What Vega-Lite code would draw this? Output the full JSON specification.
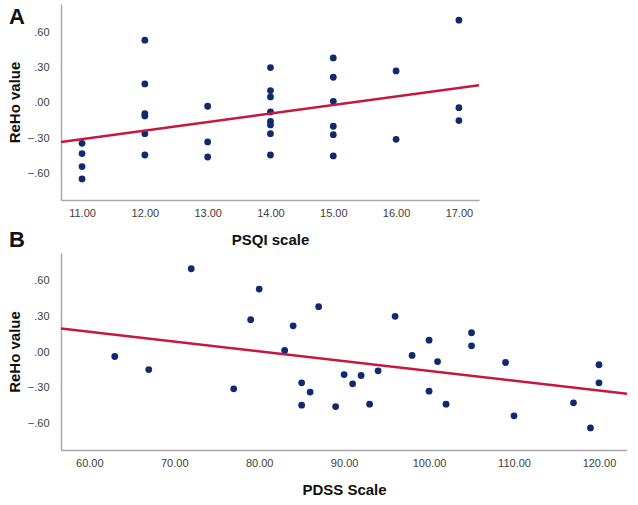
{
  "$schema": "https://vega.github.io/schema/vega-lite/v6.json",
  "padding": {"left": 7, "top": 4, "right": 0, "bottom": 0},
  "background": "white",
  "bounds": "flush",
  "spacing": 53,
  "config": {
    "view": {"stroke": null},
    "font": "Liberation Sans",
    "axis": {
      "grid": false,
      "ticks": false,
      "domainColor": "#a8a8a8",
      "domainWidth": 1.5,
      "labelFont": "Liberation Sans",
      "labelFontSize": 11,
      "labelColor": "#404040",
      "titleFont": "Liberation Sans",
      "titleFontSize": 15,
      "titleFontWeight": "bold",
      "titleColor": "#111111"
    },
    "axisY": {"labelPadding": 12, "titlePadding": 8, "minExtent": 31, "maxExtent": 31},
    "axisX": {"labelPadding": 7, "titlePadding": 14},
    "title": {"fontSize": 22, "fontWeight": "bold", "font": "Liberation Sans", "color": "#111111", "anchor": "start", "frame": "group"}
  },
  "datasets": {
    "psqi": [
      {"psqi": 11, "reho": -0.343}, {"psqi": 11, "reho": -0.43}, {"psqi": 11, "reho": -0.54}, {"psqi": 11, "reho": -0.645},
      {"psqi": 12, "reho": 0.533}, {"psqi": 12, "reho": 0.161}, {"psqi": 12, "reho": -0.091}, {"psqi": 12, "reho": -0.11}, {"psqi": 12, "reho": -0.261}, {"psqi": 12, "reho": -0.442},
      {"psqi": 13, "reho": -0.028}, {"psqi": 13, "reho": -0.331}, {"psqi": 13, "reho": -0.459},
      {"psqi": 14, "reho": 0.30}, {"psqi": 14, "reho": 0.105}, {"psqi": 14, "reho": 0.051}, {"psqi": 14, "reho": -0.076}, {"psqi": 14, "reho": -0.156}, {"psqi": 14, "reho": -0.187}, {"psqi": 14, "reho": -0.261}, {"psqi": 14, "reho": -0.442},
      {"psqi": 15, "reho": 0.382}, {"psqi": 15, "reho": 0.218}, {"psqi": 15, "reho": 0.014}, {"psqi": 15, "reho": -0.198}, {"psqi": 15, "reho": -0.269}, {"psqi": 15, "reho": -0.45},
      {"psqi": 16, "reho": 0.272}, {"psqi": 16, "reho": -0.309},
      {"psqi": 17, "reho": 0.703}, {"psqi": 17, "reho": -0.04}, {"psqi": 17, "reho": -0.15}
    ],
    "pdss": [
      {"pdss": 72, "reho": 0.698}, {"pdss": 80, "reho": 0.528}, {"pdss": 79, "reho": 0.271}, {"pdss": 87, "reho": 0.38},
      {"pdss": 84, "reho": 0.22}, {"pdss": 83, "reho": 0.014}, {"pdss": 63, "reho": -0.037}, {"pdss": 67, "reho": -0.146},
      {"pdss": 77, "reho": -0.308}, {"pdss": 85, "reho": -0.257}, {"pdss": 86, "reho": -0.335}, {"pdss": 85, "reho": -0.445},
      {"pdss": 89, "reho": -0.456}, {"pdss": 90, "reho": -0.188}, {"pdss": 91, "reho": -0.266}, {"pdss": 92, "reho": -0.196},
      {"pdss": 93, "reho": -0.436}, {"pdss": 94, "reho": -0.157}, {"pdss": 96, "reho": 0.30}, {"pdss": 98, "reho": -0.028},
      {"pdss": 100, "reho": 0.10}, {"pdss": 100, "reho": -0.327}, {"pdss": 101, "reho": -0.079}, {"pdss": 102, "reho": -0.436},
      {"pdss": 105, "reho": 0.162}, {"pdss": 105, "reho": 0.053}, {"pdss": 109, "reho": -0.087}, {"pdss": 110, "reho": -0.534},
      {"pdss": 117, "reho": -0.425}, {"pdss": 119, "reho": -0.635}, {"pdss": 120, "reho": -0.106}, {"pdss": 120, "reho": -0.257}
    ]
  },
  "vconcat": [
    {
      "width": 418,
      "height": 196,
      "title": {"text": "A", "offset": -25, "dx": -52},
      "data": {"name": "psqi"},
      "layer": [
        {
          "mark": {"type": "point", "filled": true, "size": 46, "opacity": 1, "color": "#0f2a6e"},
          "encoding": {
            "x": {"field": "psqi", "type": "quantitative", "scale": {"domain": [10.665, 17.32], "nice": false, "zero": false},
                  "axis": {"title": "PSQI scale", "values": [11, 12, 13, 14, 15, 16, 17], "format": ".2f"}},
            "y": {"field": "reho", "type": "quantitative", "scale": {"domain": [-0.824, 0.84], "nice": false},
                  "axis": {"title": "ReHo value", "values": [-0.6, -0.3, 0, 0.3, 0.6], "labelExpr": "replace(format(datum.value, '.2f'), '0.', '.')"}}
          }
        },
        {
          "transform": [{"regression": "reho", "on": "psqi", "extent": [10.665, 17.32]}],
          "mark": {"type": "line", "color": "#c8173e", "strokeWidth": 2.5, "clip": true},
          "encoding": {
            "x": {"field": "psqi", "type": "quantitative"},
            "y": {"field": "reho", "type": "quantitative"}
          }
        }
      ]
    },
    {
      "width": 566,
      "height": 197,
      "title": {"text": "B", "offset": 1, "dx": -52},
      "data": {"name": "pdss"},
      "layer": [
        {
          "mark": {"type": "point", "filled": true, "size": 46, "opacity": 1, "color": "#0f2a6e"},
          "encoding": {
            "x": {"field": "pdss", "type": "quantitative", "scale": {"domain": [56.67, 123.3], "nice": false, "zero": false},
                  "axis": {"title": "PDSS Scale", "values": [60, 70, 80, 90, 100, 110, 120], "format": ".2f"}},
            "y": {"field": "reho", "type": "quantitative", "scale": {"domain": [-0.82, 0.83], "nice": false},
                  "axis": {"title": "ReHo value", "values": [-0.6, -0.3, 0, 0.3, 0.6], "labelExpr": "replace(format(datum.value, '.2f'), '0.', '.')"}}
          }
        },
        {
          "transform": [{"regression": "reho", "on": "pdss", "extent": [56.67, 123.3]}],
          "mark": {"type": "line", "color": "#c8173e", "strokeWidth": 2.5, "clip": true},
          "encoding": {
            "x": {"field": "pdss", "type": "quantitative"},
            "y": {"field": "reho", "type": "quantitative"}
          }
        }
      ]
    }
  ]
}
